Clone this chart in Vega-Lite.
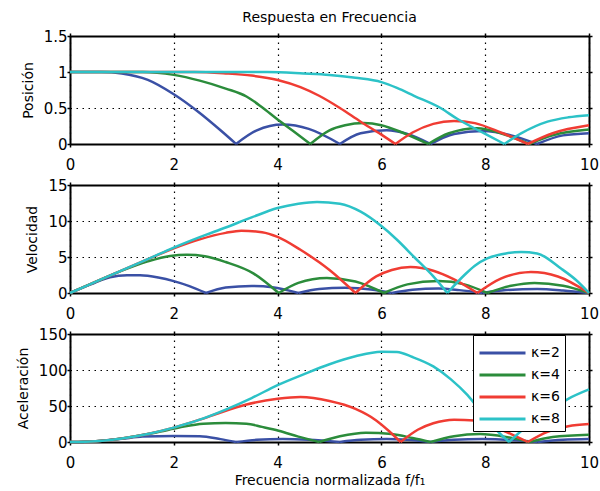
{
"$schema": "https://vega.github.io/schema/vega-lite/v6.json",
"background": "white",
"padding": {"left": 16, "top": 11, "right": 0, "bottom": 0},
"config": {
  "view": {"stroke": null},
  "font": "DejaVu Sans",
  "axis": {"domainColor": "black", "domainWidth": 2, "tickColor": "black", "tickWidth": 1.5, "tickSize": 3,
    "labelFont": "DejaVu Sans", "labelFontSize": 15, "labelColor": "black",
    "titleFont": "DejaVu Sans", "titleFontSize": 14, "titleFontWeight": "normal", "titleColor": "black",
    "gridColor": "black", "gridDash": [1.5, 4.5], "gridWidth": 1.2, "gridOpacity": 1}
},
"datasets": {
"pos": [
{"k":"κ=2","s":1,"f":0,"v":1},{"k":"κ=2","s":1,"f":0.6,"v":1},{"k":"κ=2","s":1,"f":1,"v":0.98},{"k":"κ=2","s":1,"f":1.5,"v":0.89},{"k":"κ=2","s":1,"f":2,"v":0.69},{"k":"κ=2","s":1,"f":2.5,"v":0.43},{"k":"κ=2","s":1,"f":2.9,"v":0.19},{"k":"κ=2","s":1,"f":3.2,"v":0},
{"k":"κ=2","s":2,"f":3.2,"v":0},{"k":"κ=2","s":2,"f":3.6,"v":0.19},{"k":"κ=2","s":2,"f":4.1,"v":0.27},{"k":"κ=2","s":2,"f":4.6,"v":0.21},{"k":"κ=2","s":2,"f":5.2,"v":0},
{"k":"κ=2","s":3,"f":5.2,"v":0},{"k":"κ=2","s":3,"f":5.6,"v":0.15},{"k":"κ=2","s":3,"f":6.1,"v":0.19},{"k":"κ=2","s":3,"f":6.5,"v":0.14},{"k":"κ=2","s":3,"f":6.95,"v":0},
{"k":"κ=2","s":4,"f":6.95,"v":0},{"k":"κ=2","s":4,"f":7.4,"v":0.14},{"k":"κ=2","s":4,"f":7.95,"v":0.18},{"k":"κ=2","s":4,"f":8.5,"v":0.12},{"k":"κ=2","s":4,"f":9.0,"v":0},
{"k":"κ=2","s":5,"f":9.0,"v":0},{"k":"κ=2","s":5,"f":9.5,"v":0.12},{"k":"κ=2","s":5,"f":10,"v":0.15},
{"k":"κ=4","s":1,"f":0,"v":1},{"k":"κ=4","s":1,"f":1.4,"v":1},{"k":"κ=4","s":1,"f":2,"v":0.96},{"k":"κ=4","s":1,"f":2.5,"v":0.88},{"k":"κ=4","s":1,"f":3,"v":0.77},{"k":"κ=4","s":1,"f":3.4,"v":0.66},{"k":"κ=4","s":1,"f":3.7,"v":0.51},{"k":"κ=4","s":1,"f":4.0,"v":0.34},{"k":"κ=4","s":1,"f":4.3,"v":0.18},{"k":"κ=4","s":1,"f":4.63,"v":0},
{"k":"κ=4","s":2,"f":4.63,"v":0},{"k":"κ=4","s":2,"f":5.0,"v":0.19},{"k":"κ=4","s":2,"f":5.3,"v":0.26},{"k":"κ=4","s":2,"f":5.66,"v":0.29},{"k":"κ=4","s":2,"f":6.0,"v":0.26},{"k":"κ=4","s":2,"f":6.4,"v":0.16},{"k":"κ=4","s":2,"f":6.9,"v":0},
{"k":"κ=4","s":3,"f":6.9,"v":0},{"k":"κ=4","s":3,"f":7.3,"v":0.15},{"k":"κ=4","s":3,"f":7.85,"v":0.22},{"k":"κ=4","s":3,"f":8.3,"v":0.15},{"k":"κ=4","s":3,"f":8.85,"v":0},
{"k":"κ=4","s":4,"f":8.85,"v":0},{"k":"κ=4","s":4,"f":9.3,"v":0.12},{"k":"κ=4","s":4,"f":10,"v":0.2},
{"k":"κ=6","s":1,"f":0,"v":1},{"k":"κ=6","s":1,"f":2.4,"v":1},{"k":"κ=6","s":1,"f":3,"v":0.98},{"k":"κ=6","s":1,"f":3.5,"v":0.95},{"k":"κ=6","s":1,"f":4,"v":0.89},{"k":"κ=6","s":1,"f":4.44,"v":0.79},{"k":"κ=6","s":1,"f":4.8,"v":0.67},{"k":"κ=6","s":1,"f":5.2,"v":0.5},{"k":"κ=6","s":1,"f":5.6,"v":0.31},{"k":"κ=6","s":1,"f":6,"v":0.13},{"k":"κ=6","s":1,"f":6.27,"v":0},
{"k":"κ=6","s":2,"f":6.27,"v":0},{"k":"κ=6","s":2,"f":6.6,"v":0.16},{"k":"κ=6","s":2,"f":7,"v":0.28},{"k":"κ=6","s":2,"f":7.4,"v":0.32},{"k":"κ=6","s":2,"f":7.8,"v":0.29},{"k":"κ=6","s":2,"f":8.3,"v":0.16},{"k":"κ=6","s":2,"f":8.82,"v":0},
{"k":"κ=6","s":3,"f":8.82,"v":0},{"k":"κ=6","s":3,"f":9.3,"v":0.15},{"k":"κ=6","s":3,"f":10,"v":0.26},
{"k":"κ=8","s":1,"f":0,"v":1},{"k":"κ=8","s":1,"f":3.8,"v":1},{"k":"κ=8","s":1,"f":4.5,"v":0.98},{"k":"κ=8","s":1,"f":5,"v":0.96},{"k":"κ=8","s":1,"f":5.5,"v":0.92},{"k":"κ=8","s":1,"f":6,"v":0.86},{"k":"κ=8","s":1,"f":6.3,"v":0.78},{"k":"κ=8","s":1,"f":6.63,"v":0.67},{"k":"κ=8","s":1,"f":7.14,"v":0.5},{"k":"κ=8","s":1,"f":7.46,"v":0.35},{"k":"κ=8","s":1,"f":8,"v":0.14},{"k":"κ=8","s":1,"f":8.37,"v":0},
{"k":"κ=8","s":2,"f":8.37,"v":0},{"k":"κ=8","s":2,"f":8.7,"v":0.15},{"k":"κ=8","s":2,"f":9.2,"v":0.31},{"k":"κ=8","s":2,"f":9.6,"v":0.37},{"k":"κ=8","s":2,"f":10,"v":0.4}
],
"vel": [
{"k":"κ=2","s":1,"f":0,"v":0},{"k":"κ=2","s":1,"f":0.4,"v":1.2},{"k":"κ=2","s":1,"f":0.77,"v":2.2},{"k":"κ=2","s":1,"f":1.1,"v":2.45},{"k":"κ=2","s":1,"f":1.35,"v":2.45},{"k":"κ=2","s":1,"f":1.7,"v":2.15},{"k":"κ=2","s":1,"f":2.0,"v":1.65},{"k":"κ=2","s":1,"f":2.3,"v":0.95},{"k":"κ=2","s":1,"f":2.62,"v":0},
{"k":"κ=2","s":2,"f":2.62,"v":0},{"k":"κ=2","s":2,"f":3.0,"v":0.75},{"k":"κ=2","s":2,"f":3.5,"v":0.97},{"k":"κ=2","s":2,"f":3.9,"v":0.8},{"k":"κ=2","s":2,"f":4.4,"v":0},
{"k":"κ=2","s":3,"f":4.4,"v":0},{"k":"κ=2","s":3,"f":4.8,"v":0.55},{"k":"κ=2","s":3,"f":5.3,"v":0.72},{"k":"κ=2","s":3,"f":5.8,"v":0.5},{"k":"κ=2","s":3,"f":6.2,"v":0},
{"k":"κ=2","s":4,"f":6.2,"v":0},{"k":"κ=2","s":4,"f":6.6,"v":0.45},{"k":"κ=2","s":4,"f":7.1,"v":0.62},{"k":"κ=2","s":4,"f":7.5,"v":0.4},{"k":"κ=2","s":4,"f":7.95,"v":0},
{"k":"κ=2","s":5,"f":7.95,"v":0},{"k":"κ=2","s":5,"f":8.4,"v":0.4},{"k":"κ=2","s":5,"f":9,"v":0.55},{"k":"κ=2","s":5,"f":9.5,"v":0.35},{"k":"κ=2","s":5,"f":10,"v":0},
{"k":"κ=4","s":1,"f":0,"v":0},{"k":"κ=4","s":1,"f":0.5,"v":1.57},{"k":"κ=4","s":1,"f":1,"v":3.1},{"k":"κ=4","s":1,"f":1.5,"v":4.4},{"k":"κ=4","s":1,"f":1.93,"v":5.15},{"k":"κ=4","s":1,"f":2.25,"v":5.3},{"k":"κ=4","s":1,"f":2.6,"v":5.1},{"k":"κ=4","s":1,"f":3.0,"v":4.3},{"k":"κ=4","s":1,"f":3.54,"v":2.7},{"k":"κ=4","s":1,"f":4.02,"v":0},
{"k":"κ=4","s":2,"f":4.02,"v":0},{"k":"κ=4","s":2,"f":4.4,"v":1.4},{"k":"κ=4","s":2,"f":4.95,"v":2.1},{"k":"κ=4","s":2,"f":5.5,"v":1.6},{"k":"κ=4","s":2,"f":6.05,"v":0},
{"k":"κ=4","s":3,"f":6.05,"v":0},{"k":"κ=4","s":3,"f":6.5,"v":1.2},{"k":"κ=4","s":3,"f":7.1,"v":1.65},{"k":"κ=4","s":3,"f":7.6,"v":1.2},{"k":"κ=4","s":3,"f":8.04,"v":0},
{"k":"κ=4","s":4,"f":8.04,"v":0},{"k":"κ=4","s":4,"f":8.5,"v":1.0},{"k":"κ=4","s":4,"f":8.95,"v":1.4},{"k":"κ=4","s":4,"f":9.5,"v":1.0},{"k":"κ=4","s":4,"f":10,"v":0},
{"k":"κ=6","s":1,"f":0,"v":0},{"k":"κ=6","s":1,"f":0.5,"v":1.57},{"k":"κ=6","s":1,"f":1,"v":3.14},{"k":"κ=6","s":1,"f":1.5,"v":4.7},{"k":"κ=6","s":1,"f":2,"v":6.2},{"k":"κ=6","s":1,"f":2.5,"v":7.45},{"k":"κ=6","s":1,"f":3,"v":8.35},{"k":"κ=6","s":1,"f":3.3,"v":8.65},{"k":"κ=6","s":1,"f":3.7,"v":8.45},{"k":"κ=6","s":1,"f":4,"v":7.8},{"k":"κ=6","s":1,"f":4.44,"v":6.0},{"k":"κ=6","s":1,"f":5,"v":3.2},{"k":"κ=6","s":1,"f":5.5,"v":0},
{"k":"κ=6","s":2,"f":5.5,"v":0},{"k":"κ=6","s":2,"f":5.9,"v":2.3},{"k":"κ=6","s":2,"f":6.2,"v":3.2},{"k":"κ=6","s":2,"f":6.56,"v":3.6},{"k":"κ=6","s":2,"f":7,"v":3.1},{"k":"κ=6","s":2,"f":7.4,"v":1.9},{"k":"κ=6","s":2,"f":7.85,"v":0},
{"k":"κ=6","s":3,"f":7.85,"v":0},{"k":"κ=6","s":3,"f":8.3,"v":2.0},{"k":"κ=6","s":3,"f":8.88,"v":2.9},{"k":"κ=6","s":3,"f":9.4,"v":2.3},{"k":"κ=6","s":3,"f":10,"v":0},
{"k":"κ=8","s":1,"f":0,"v":0},{"k":"κ=8","s":1,"f":0.5,"v":1.57},{"k":"κ=8","s":1,"f":1,"v":3.14},{"k":"κ=8","s":1,"f":1.5,"v":4.7},{"k":"κ=8","s":1,"f":2,"v":6.3},{"k":"κ=8","s":1,"f":2.5,"v":7.75},{"k":"κ=8","s":1,"f":3,"v":9.1},{"k":"κ=8","s":1,"f":3.5,"v":10.5},{"k":"κ=8","s":1,"f":4,"v":11.8},{"k":"κ=8","s":1,"f":4.4,"v":12.4},{"k":"κ=8","s":1,"f":4.76,"v":12.65},{"k":"κ=8","s":1,"f":5.2,"v":12.4},{"k":"κ=8","s":1,"f":5.6,"v":11.3},{"k":"κ=8","s":1,"f":6,"v":9.3},{"k":"κ=8","s":1,"f":6.3,"v":7.4},{"k":"κ=8","s":1,"f":6.63,"v":5.0},{"k":"κ=8","s":1,"f":7.0,"v":2.3},{"k":"κ=8","s":1,"f":7.27,"v":0},
{"k":"κ=8","s":2,"f":7.27,"v":0},{"k":"κ=8","s":2,"f":7.6,"v":2.5},{"k":"κ=8","s":2,"f":7.8,"v":3.8},{"k":"κ=8","s":2,"f":8.04,"v":4.8},{"k":"κ=8","s":2,"f":8.4,"v":5.5},{"k":"κ=8","s":2,"f":8.69,"v":5.7},{"k":"κ=8","s":2,"f":9.0,"v":5.5},{"k":"κ=8","s":2,"f":9.46,"v":3.4},{"k":"κ=8","s":2,"f":9.75,"v":1.8},{"k":"κ=8","s":2,"f":10,"v":0}
],
"acc": [
{"k":"κ=2","s":1,"f":0,"v":0},{"k":"κ=2","s":1,"f":0.5,"v":1.1},{"k":"κ=2","s":1,"f":1,"v":4.5},{"k":"κ=2","s":1,"f":1.4,"v":7.5},{"k":"κ=2","s":1,"f":2,"v":8.5},{"k":"κ=2","s":1,"f":2.5,"v":8},{"k":"κ=2","s":1,"f":2.9,"v":4},{"k":"κ=2","s":1,"f":3.2,"v":0},
{"k":"κ=2","s":2,"f":3.2,"v":0},{"k":"κ=2","s":2,"f":3.6,"v":3},{"k":"κ=2","s":2,"f":4.1,"v":4.2},{"k":"κ=2","s":2,"f":4.6,"v":3.2},{"k":"κ=2","s":2,"f":5.2,"v":0},
{"k":"κ=2","s":3,"f":5.2,"v":0},{"k":"κ=2","s":3,"f":5.6,"v":3},{"k":"κ=2","s":3,"f":6.1,"v":4},{"k":"κ=2","s":3,"f":6.5,"v":3},{"k":"κ=2","s":3,"f":6.95,"v":0},
{"k":"κ=2","s":4,"f":6.95,"v":0},{"k":"κ=2","s":4,"f":7.4,"v":3},{"k":"κ=2","s":4,"f":7.95,"v":4},{"k":"κ=2","s":4,"f":8.5,"v":2.8},{"k":"κ=2","s":4,"f":9.0,"v":0},
{"k":"κ=2","s":5,"f":9.0,"v":0},{"k":"κ=2","s":5,"f":9.5,"v":3},{"k":"κ=2","s":5,"f":10,"v":4},
{"k":"κ=4","s":1,"f":0,"v":0},{"k":"κ=4","s":1,"f":0.5,"v":1.2},{"k":"κ=4","s":1,"f":1,"v":5},{"k":"κ=4","s":1,"f":1.5,"v":11},{"k":"κ=4","s":1,"f":1.74,"v":14.5},{"k":"κ=4","s":1,"f":2.1,"v":20},{"k":"κ=4","s":1,"f":2.57,"v":25.5},{"k":"κ=4","s":1,"f":3.0,"v":26.5},{"k":"κ=4","s":1,"f":3.4,"v":25.5},{"k":"κ=4","s":1,"f":3.7,"v":21},{"k":"κ=4","s":1,"f":4.02,"v":15.7},{"k":"κ=4","s":1,"f":4.4,"v":7.5},{"k":"κ=4","s":1,"f":4.8,"v":0},
{"k":"κ=4","s":2,"f":4.8,"v":0},{"k":"κ=4","s":2,"f":5.2,"v":8},{"k":"κ=4","s":2,"f":5.7,"v":13},{"k":"κ=4","s":2,"f":6.2,"v":11},{"k":"κ=4","s":2,"f":6.6,"v":5.5},{"k":"κ=4","s":2,"f":6.95,"v":0},
{"k":"κ=4","s":3,"f":6.95,"v":0},{"k":"κ=4","s":3,"f":7.4,"v":8},{"k":"κ=4","s":3,"f":7.9,"v":11},{"k":"κ=4","s":3,"f":8.4,"v":7},{"k":"κ=4","s":3,"f":8.85,"v":0},
{"k":"κ=4","s":4,"f":8.85,"v":0},{"k":"κ=4","s":4,"f":9.3,"v":7},{"k":"κ=4","s":4,"f":10,"v":10},
{"k":"κ=6","s":1,"f":0,"v":0},{"k":"κ=6","s":1,"f":0.5,"v":1.2},{"k":"κ=6","s":1,"f":1,"v":5},{"k":"κ=6","s":1,"f":1.5,"v":11.2},{"k":"κ=6","s":1,"f":2,"v":20},{"k":"κ=6","s":1,"f":2.5,"v":31},{"k":"κ=6","s":1,"f":2.9,"v":41},{"k":"κ=6","s":1,"f":3.4,"v":52},{"k":"κ=6","s":1,"f":4,"v":60},{"k":"κ=6","s":1,"f":4.44,"v":62.5},{"k":"κ=6","s":1,"f":5,"v":57},{"k":"κ=6","s":1,"f":5.5,"v":46},{"k":"κ=6","s":1,"f":5.9,"v":30},{"k":"κ=6","s":1,"f":6.15,"v":15},{"k":"κ=6","s":1,"f":6.37,"v":0},
{"k":"κ=6","s":2,"f":6.37,"v":0},{"k":"κ=6","s":2,"f":6.7,"v":17},{"k":"κ=6","s":2,"f":7.0,"v":26},{"k":"κ=6","s":2,"f":7.4,"v":31},{"k":"κ=6","s":2,"f":7.8,"v":30},{"k":"κ=6","s":2,"f":8.2,"v":20},{"k":"κ=6","s":2,"f":8.5,"v":11},{"k":"κ=6","s":2,"f":8.82,"v":0},
{"k":"κ=6","s":3,"f":8.82,"v":0},{"k":"κ=6","s":3,"f":9.2,"v":14},{"k":"κ=6","s":3,"f":9.6,"v":22},{"k":"κ=6","s":3,"f":10,"v":25},
{"k":"κ=8","s":1,"f":0,"v":0},{"k":"κ=8","s":1,"f":0.5,"v":1.2},{"k":"κ=8","s":1,"f":1,"v":5},{"k":"κ=8","s":1,"f":1.5,"v":11.2},{"k":"κ=8","s":1,"f":2,"v":20},{"k":"κ=8","s":1,"f":2.5,"v":31},{"k":"κ=8","s":1,"f":3,"v":45},{"k":"κ=8","s":1,"f":3.5,"v":61},{"k":"κ=8","s":1,"f":4,"v":79},{"k":"κ=8","s":1,"f":4.5,"v":94},{"k":"κ=8","s":1,"f":5,"v":108},{"k":"κ=8","s":1,"f":5.5,"v":119},{"k":"κ=8","s":1,"f":6,"v":125.5},{"k":"κ=8","s":1,"f":6.3,"v":125},{"k":"κ=8","s":1,"f":6.6,"v":118},{"k":"κ=8","s":1,"f":7,"v":105},{"k":"κ=8","s":1,"f":7.34,"v":87},{"k":"κ=8","s":1,"f":7.66,"v":65},{"k":"κ=8","s":1,"f":7.95,"v":39},{"k":"κ=8","s":1,"f":8.2,"v":18},{"k":"κ=8","s":1,"f":8.46,"v":0},
{"k":"κ=8","s":2,"f":8.46,"v":0},{"k":"κ=8","s":2,"f":8.8,"v":22},{"k":"κ=8","s":2,"f":9.2,"v":42},{"k":"κ=8","s":2,"f":9.6,"v":60},{"k":"κ=8","s":2,"f":10,"v":73}
]
},
"spacing": 41,
"bounds": "flush",
"resolve": {"legend": {"color": "independent"}},
"vconcat": [
{
  "width": 519, "height": 108,
  "title": {"text": "Respuesta en Frecuencia", "font": "DejaVu Sans", "fontSize": 14, "fontWeight": "normal", "color": "black", "anchor": "middle", "offset": 4},
  "data": {"name": "pos"},
  "layer": [
    {"mark": {"type": "line", "strokeWidth": 2.5, "interpolate": "monotone"},
     "encoding": {
       "x": {"field": "f", "type": "quantitative", "scale": {"domain": [0, 10], "nice": false, "zero": false},
             "axis": {"values": [0,2,4,6,8,10], "grid": true, "labelPadding": 10, "labelFlush": false, "title": null, "format": "~f"}},
       "y": {"field": "v", "type": "quantitative", "scale": {"domain": [0, 1.5], "nice": false},
             "axis": {"values": [0,0.5,1,1.5], "grid": true, "labelPadding": 0, "title": "Posición", "titlePadding": 8, "format": "~f"}},
       "color": {"field": "k", "type": "nominal", "scale": {"domain": ["κ=2","κ=4","κ=6","κ=8"], "range": ["#3a50a5","#2b8c3b","#f03c33","#2cc2c7"]}, "legend": null},
       "detail": {"field": "s", "type": "nominal"}
     }},
    {"mark": {"type": "line", "opacity": 0},
     "encoding": {
       "x": {"field": "f", "type": "quantitative", "axis": {"orient": "top", "values": [0,2,4,6,8,10], "labels": false, "grid": false, "title": null}},
       "y": {"field": "v", "type": "quantitative", "axis": {"orient": "right", "values": [0,0.5,1,1.5], "labels": false, "grid": false, "title": null}},
       "detail": {"field": "k", "type": "nominal"}
     }}
  ],
  "resolve": {"axis": {"x": "independent", "y": "independent"}}
},
{
  "width": 519, "height": 108,
  "data": {"name": "vel"},
  "layer": [
    {"mark": {"type": "line", "strokeWidth": 2.5, "interpolate": "monotone"},
     "encoding": {
       "x": {"field": "f", "type": "quantitative", "scale": {"domain": [0, 10], "nice": false, "zero": false},
             "axis": {"values": [0,2,4,6,8,10], "grid": true, "labelPadding": 10, "labelFlush": false, "title": null, "format": "~f"}},
       "y": {"field": "v", "type": "quantitative", "scale": {"domain": [0, 15], "nice": false},
             "axis": {"values": [0,5,10,15], "grid": true, "labelPadding": 0, "title": "Velocidad", "titlePadding": 8, "format": "~f"}},
       "color": {"field": "k", "type": "nominal", "scale": {"domain": ["κ=2","κ=4","κ=6","κ=8"], "range": ["#3a50a5","#2b8c3b","#f03c33","#2cc2c7"]}, "legend": null},
       "detail": {"field": "s", "type": "nominal"}
     }},
    {"mark": {"type": "line", "opacity": 0},
     "encoding": {
       "x": {"field": "f", "type": "quantitative", "axis": {"orient": "top", "values": [0,2,4,6,8,10], "labels": false, "grid": false, "title": null}},
       "y": {"field": "v", "type": "quantitative", "axis": {"orient": "right", "values": [0,5,10,15], "labels": false, "grid": false, "title": null}},
       "detail": {"field": "k", "type": "nominal"}
     }}
  ],
  "resolve": {"axis": {"x": "independent", "y": "independent"}}
},
{
  "width": 519, "height": 108,
  "data": {"name": "acc"},
  "layer": [
    {"mark": {"type": "line", "strokeWidth": 2.5, "interpolate": "monotone"},
     "encoding": {
       "x": {"field": "f", "type": "quantitative", "scale": {"domain": [0, 10], "nice": false, "zero": false},
             "axis": {"values": [0,2,4,6,8,10], "grid": true, "labelPadding": 10, "labelFlush": false, "title": "Frecuencia normalizada f/f₁", "titleFontSize": 14, "titlePadding": 3, "format": "~f"}},
       "y": {"field": "v", "type": "quantitative", "scale": {"domain": [0, 150], "nice": false},
             "axis": {"values": [0,50,100,150], "grid": true, "labelPadding": 0, "title": "Aceleración", "titlePadding": 8, "format": "~f"}},
       "color": {"field": "k", "type": "nominal", "scale": {"domain": ["κ=2","κ=4","κ=6","κ=8"], "range": ["#3a50a5","#2b8c3b","#f03c33","#2cc2c7"]},
                 "legend": {"orient": "none", "legendX": 403, "legendY": 1, "title": null, "symbolType": "M-1,0H3", "symbolSize": 529, "symbolStrokeWidth": 3,
                            "labelFont": "DejaVu Sans", "labelFontSize": 14, "labelColor": "black", "labelOffset": 27, "rowPadding": 2,
                            "padding": 5, "strokeColor": "black", "fillColor": "white"}},
       "detail": {"field": "s", "type": "nominal"}
     }},
    {"mark": {"type": "line", "opacity": 0},
     "encoding": {
       "x": {"field": "f", "type": "quantitative", "axis": {"orient": "top", "values": [0,2,4,6,8,10], "labels": false, "grid": false, "title": null}},
       "y": {"field": "v", "type": "quantitative", "axis": {"orient": "right", "values": [0,50,100,150], "labels": false, "grid": false, "title": null}},
       "detail": {"field": "k", "type": "nominal"}
     }}
  ],
  "resolve": {"axis": {"x": "independent", "y": "independent"}}
}
]
}
